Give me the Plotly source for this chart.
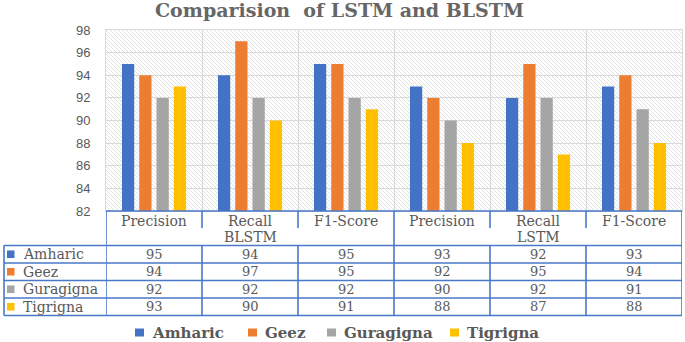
import base64
import plotly.graph_objects as go

# ---------------- data ----------------
categories = ["Precision", "Recall", "F1-Score", "Precision", "Recall", "F1-Score"]
models = ["BLSTM", "LSTM"]
series_names = ["Amharic", "Geez", "Guragigna", "Tigrigna"]
amharic = [95, 94, 95, 93, 92, 93]
geez = [94, 97, 95, 92, 95, 94]
guragigna = [92, 92, 92, 90, 92, 91]
tigrigna = [93, 90, 91, 88, 87, 88]
y_ticks = [82, 84, 86, 88, 90, 92, 94, 96, 98]
title_text = "Comparision  of LSTM and BLSTM"

series_values = [amharic, geez, guragigna, tigrigna]
colors = ["#4472C4", "#ED7D31", "#A5A5A5", "#FFC000"]

# ---------------- layout helpers (pixels -> paper) ----------------
W, H = 685, 342
PL, PR, PT, PB = 106, 682, 30, 211
TL = 4                      # table left edge (row labels column)
ROW_LINES = [245.5, 263, 280.5, 298, 315.5]
HEADER_MID = 228
def fx(p): return p / W
def fy(p): return 1 - p / H

TEXT_GRAY = "#595959"
BLUE_LINE = "#4A78C8"
SERIF = "DejaVu Serif, Liberation Serif, serif"

n = len(categories)
xs = list(range(n))

fig = go.Figure()
for name, vals, col in zip(series_names, series_values, colors):
    fig.add_trace(go.Bar(x=xs, y=vals, name=name, marker=dict(color=col, line=dict(width=0)),
                         showlegend=False, hoverinfo="x+y+name"))

shapes = []
annotations = []

# table lines: horizontal
shapes.append(dict(type="line", xref="paper", yref="paper", x0=fx(PL), x1=fx(PR), y0=fy(PB), y1=fy(PB),
                   line=dict(color=BLUE_LINE, width=1.6)))
for ry in ROW_LINES:
    shapes.append(dict(type="line", xref="paper", yref="paper", x0=fx(TL), x1=fx(PR), y0=fy(ry), y1=fy(ry),
                       line=dict(color=BLUE_LINE, width=1.6)))
# left column vertical
shapes.append(dict(type="line", xref="paper", yref="paper", x0=fx(TL), x1=fx(TL), y0=fy(ROW_LINES[0]), y1=fy(ROW_LINES[-1]),
                   line=dict(color=BLUE_LINE, width=1.6)))
# column boundaries
group_size = n // len(models)
for b in range(n + 1):
    xb = b - 0.5
    full = (b % group_size == 0)
    if full:
        shapes.append(dict(type="line", xref="x", yref="paper", x0=xb, x1=xb, y0=fy(PB), y1=fy(ROW_LINES[-1]),
                           line=dict(color=BLUE_LINE, width=1.6)))
    else:
        shapes.append(dict(type="line", xref="x", yref="paper", x0=xb, x1=xb, y0=fy(PB), y1=fy(HEADER_MID),
                           line=dict(color=BLUE_LINE, width=1.6)))
        shapes.append(dict(type="line", xref="x", yref="paper", x0=xb, x1=xb, y0=fy(ROW_LINES[0]), y1=fy(ROW_LINES[-1]),
                           line=dict(color=BLUE_LINE, width=1.6)))

# header texts
for i, c in enumerate(categories):
    annotations.append(dict(x=i, y=fy(220.5), xref="x", yref="paper", text=c, showarrow=False,
                            font=dict(family=SERIF, size=14, color=TEXT_GRAY), xanchor="center", yanchor="middle"))
for g, m in enumerate(models):
    center = g * group_size + (group_size - 1) / 2
    annotations.append(dict(x=center, y=fy(236.5), xref="x", yref="paper", text=m, showarrow=False,
                            font=dict(family=SERIF, size=14, color=TEXT_GRAY), xanchor="center", yanchor="middle"))

# data rows
for r, (name, vals, col) in enumerate(zip(series_names, series_values, colors)):
    yc = (ROW_LINES[r] + ROW_LINES[r + 1]) / 2
    shapes.append(dict(type="rect", xref="paper", yref="paper", x0=fx(7), x1=fx(14.5), y0=fy(yc - 3.8), y1=fy(yc + 3.8),
                       fillcolor=col, line=dict(width=0)))
    annotations.append(dict(x=fx(21), y=fy(yc), xref="paper", yref="paper", text=name, showarrow=False,
                            font=dict(family=SERIF, size=14, color=TEXT_GRAY), xanchor="left", yanchor="middle"))
    for i, v in enumerate(vals):
        annotations.append(dict(x=i, y=fy(yc), xref="x", yref="paper", text=str(v), showarrow=False,
                                font=dict(family=SERIF, size=13, color=TEXT_GRAY), xanchor="center", yanchor="middle"))

# legend (manual)
legend_sq = [135, 248, 327, 450]
LEG_Y = 332.5
for x0, name, col in zip(legend_sq, series_names, colors):
    shapes.append(dict(type="rect", xref="paper", yref="paper", x0=fx(x0), x1=fx(x0 + 9), y0=fy(LEG_Y - 4), y1=fy(LEG_Y + 4),
                       fillcolor=col, line=dict(width=0)))
    annotations.append(dict(x=fx(x0 + 15), y=fy(LEG_Y), xref="paper", yref="paper", text="<b>" + name + "</b>",
                            showarrow=False, font=dict(family=SERIF, size=15, color=TEXT_GRAY),
                            xanchor="left", yanchor="middle"))

# title
annotations.append(dict(x=fx(339), y=fy(10.5), xref="paper", yref="paper", text="<b>" + title_text + "</b>",
                        showarrow=False, font=dict(family=SERIF, size=19, color="#666666"),
                        xanchor="center", yanchor="middle"))

# hatched plot background
pw, ph = PR - PL, PB - PT
svg = (f'<svg xmlns="http://www.w3.org/2000/svg" width="{pw}" height="{ph}">'
       '<defs><pattern id="p" width="4" height="4" patternUnits="userSpaceOnUse">'
       '<path d="M-1,-1 L5,5" stroke="#dadada" stroke-width="0.8"/></pattern></defs>'
       '<rect width="100%" height="100%" fill="white"/>'
       '<rect width="100%" height="100%" fill="url(#p)"/></svg>')
img_src = "data:image/svg+xml;base64," + base64.b64encode(svg.encode()).decode()

fig.update_layout(
    width=W, height=H, autosize=False,
    margin=dict(l=0, r=0, t=0, b=0, autoexpand=False),
    paper_bgcolor="white", plot_bgcolor="rgba(0,0,0,0)",
    barmode="group", bargap=0.28, bargroupgap=0.29,
    showlegend=False,
    shapes=shapes, annotations=annotations,
    images=[dict(source=img_src, xref="paper", yref="paper", x=fx(PL), y=fy(PT),
                 sizex=pw / W, sizey=ph / H, xanchor="left", yanchor="top",
                 sizing="stretch", layer="below")],
    xaxis=dict(domain=[fx(PL), fx(PR)], range=[-0.5, n - 0.5], tickvals=[b + 0.5 for b in range(n - 1)],
               showticklabels=False, showgrid=True, gridcolor="#d9d9d9", gridwidth=1, automargin=False,
               zeroline=False, showline=True, linecolor="#d9d9d9", mirror=True, ticks=""),
    yaxis=dict(domain=[fy(PB), fy(PT)], range=[y_ticks[0], y_ticks[-1]], tickvals=y_ticks,
               showgrid=True, gridcolor="#d9d9d9", gridwidth=1, zeroline=False, automargin=False,
               showline=True, linecolor="#d9d9d9", mirror=True,
               ticks="outside", ticklen=12, tickcolor="rgba(0,0,0,0)",
               tickfont=dict(family="Liberation Sans, Arial, sans-serif", size=13, color=TEXT_GRAY)),
)

fig.write_html("out.html", config={"displayModeBar": False},
               post_script="document.body.style.margin='0';document.body.style.overflow='hidden';")
